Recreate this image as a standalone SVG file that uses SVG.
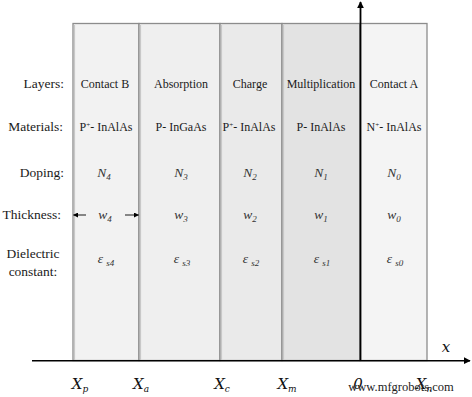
<svg xmlns="http://www.w3.org/2000/svg" width="472" height="397" viewBox="0 0 472 397">
<defs>
<marker id="ah" viewBox="0 0 10 10" refX="9" refY="5" markerWidth="7" markerHeight="7" markerUnits="userSpaceOnUse" orient="auto"><path d="M0,0 L10,5 L0,10 z" fill="#000"/></marker>
<marker id="ahs" viewBox="0 0 10 10" refX="9" refY="5" markerWidth="5" markerHeight="5" markerUnits="userSpaceOnUse" orient="auto"><path d="M0,0 L10,5 L0,10 z" fill="#000"/></marker>
</defs>
<style>
.col{stroke:#8c8c8c;stroke-width:1.3}
.sh{stroke:#c8c8c8;stroke-width:1.2;fill:none}
.t{font-family:"Liberation Serif","Times New Roman",serif;font-size:12px;fill:#1a1a1a;text-anchor:middle}
.lab{font-family:"Liberation Serif","Times New Roman",serif;font-size:13.5px;fill:#1a1a1a;text-anchor:end}
.labc{font-family:"Liberation Serif","Times New Roman",serif;font-size:13.5px;fill:#1a1a1a;text-anchor:middle}
.it{font-family:"Liberation Serif","Times New Roman",serif;font-size:13.5px;font-style:italic;fill:#333;text-anchor:middle}
.ax{font-family:"DejaVu Serif","Liberation Serif",serif;font-size:15px;font-style:italic;fill:#111;text-anchor:middle}
.sub{font-size:9px}
</style>
<rect width="472" height="397" fill="#fff"/>
<g id="contactB"><rect class="col" x="73" y="23.5" width="66" height="337" fill="#f2f2f2"/><line class="sh" x1="74.5" y1="25" x2="74.5" y2="360"/></g>
<g id="absorption"><rect class="col" x="139" y="23.5" width="81" height="337" fill="#efefef"/><line class="sh" x1="140.5" y1="25" x2="140.5" y2="360"/></g>
<g id="charge"><rect class="col" x="220" y="23.5" width="62" height="337" fill="#eaeaea"/><line class="sh" x1="221.5" y1="25" x2="221.5" y2="360"/></g>
<g id="multiplication"><rect class="col" x="282" y="23.5" width="78" height="337" fill="#e3e3e3"/><line class="sh" x1="283.5" y1="25" x2="283.5" y2="360"/></g>
<g id="contactA"><rect class="col" x="360" y="23.5" width="67" height="337" fill="#f4f4f4"/></g>
<g id="connectors">
<line x1="32" y1="360.7" x2="470" y2="360.7" stroke="#000" stroke-width="1.5" marker-end="url(#ah)"/>
<line x1="360.5" y1="361" x2="360.5" y2="2" stroke="#000" stroke-width="1.8" marker-end="url(#ah)"/>
<line x1="86" y1="215" x2="73.5" y2="215" stroke="#000" stroke-width="0.9" marker-end="url(#ahs)"/>
<line x1="125" y1="215" x2="138.5" y2="215" stroke="#000" stroke-width="0.9" marker-end="url(#ahs)"/>
</g>
<g id="labels">
<text class="lab" x="64" y="88">Layers:</text>
<text class="lab" x="63" y="131">Materials:</text>
<text class="lab" x="64" y="177">Doping:</text>
<text class="lab" x="61" y="219">Thickness:</text>
<text class="labc" x="33" y="258">Dielectric</text>
<text class="labc" x="33" y="276">constant:</text>
</g>
<g id="text-contactB">
<text class="t" x="105" y="88">Contact B</text>
<text class="t" x="106" y="131">P<tspan font-size="7" dy="-4">+</tspan><tspan dy="4">- InAlAs</tspan></text>
<text class="it" x="104" y="177">N<tspan class="sub" dy="3">4</tspan></text>
<text class="it" x="105" y="219">w<tspan class="sub" dy="3">4</tspan></text>
<text class="it" x="106" y="263">ε <tspan class="sub" dy="3">s4</tspan></text>
</g>
<g id="text-absorption">
<text class="t" x="181" y="88">Absorption</text>
<text class="t" x="181" y="131">P- InGaAs</text>
<text class="it" x="181" y="177">N<tspan class="sub" dy="3">3</tspan></text>
<text class="it" x="181" y="219">w<tspan class="sub" dy="3">3</tspan></text>
<text class="it" x="182" y="263">ε <tspan class="sub" dy="3">s3</tspan></text>
</g>
<g id="text-charge">
<text class="t" x="250" y="88">Charge</text>
<text class="t" x="249" y="131">P<tspan font-size="7" dy="-4">+</tspan><tspan dy="4">- InAlAs</tspan></text>
<text class="it" x="250" y="177">N<tspan class="sub" dy="3">2</tspan></text>
<text class="it" x="250" y="219">w<tspan class="sub" dy="3">2</tspan></text>
<text class="it" x="251" y="263">ε <tspan class="sub" dy="3">s2</tspan></text>
</g>
<g id="text-multiplication">
<text class="t" x="321" y="88">Multiplication</text>
<text class="t" x="321" y="131">P- InAlAs</text>
<text class="it" x="321" y="177">N<tspan class="sub" dy="3">1</tspan></text>
<text class="it" x="321" y="219">w<tspan class="sub" dy="3">1</tspan></text>
<text class="it" x="322" y="263">ε <tspan class="sub" dy="3">s1</tspan></text>
</g>
<g id="text-contactA">
<text class="t" x="394" y="88">Contact A</text>
<text class="t" x="394" y="131">N<tspan font-size="7" dy="-4">+</tspan><tspan dy="4">- InAlAs</tspan></text>
<text class="it" x="394" y="177">N<tspan class="sub" dy="3">0</tspan></text>
<text class="it" x="394" y="219">w<tspan class="sub" dy="3">0</tspan></text>
<text class="it" x="395" y="263">ε <tspan class="sub" dy="3">s0</tspan></text>
</g>
<g id="axis-labels">
<text class="ax" x="80" y="389">X<tspan class="sub" font-size="11" dy="3">p</tspan></text>
<text class="ax" x="141" y="389">X<tspan class="sub" font-size="11" dy="3">a</tspan></text>
<text class="ax" x="222" y="389">X<tspan class="sub" font-size="11" dy="3">c</tspan></text>
<text class="ax" x="287" y="389">X<tspan class="sub" font-size="11" dy="3">m</tspan></text>
<text class="ax" x="358" y="389" font-style="normal">0</text>
<text class="ax" x="424" y="389">X<tspan class="sub" font-size="11" dy="3">n</tspan></text>
<text class="ax" x="446" y="352" font-size="13">x</text>
</g>
<text x="401" y="391" font-family="Liberation Serif,serif" font-size="12.5" fill="#222" text-anchor="middle">www.mfgrobots.com</text>
</svg>
